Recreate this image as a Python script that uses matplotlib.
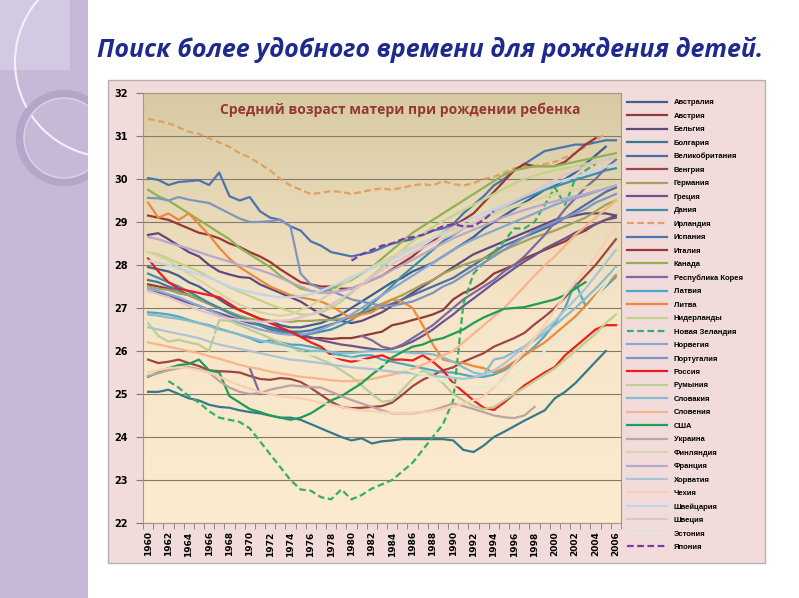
import numpy as np
import matplotlib.pyplot as plt
from matplotlib.patches import Rectangle, Circle
from matplotlib.colors import LinearSegmentedColormap

nan = np.nan
years = list(range(1960, 2007))

# средний возраст матери при рождении ребенка, 1960..2006
australia = [27.95, 27.9, 27.85, 27.75, 27.6, 27.5, 27.35, 27.2, 27.05, 26.95,
             26.85, 26.75, 26.7, 26.6, 26.55, 26.55, 26.6, 26.65, 26.75, 26.85,
             27.0, 27.15, 27.3, 27.45, 27.6, 27.7, 27.85, 27.95, 28.05, 28.2,
             28.35, 28.5, 28.65, 28.85, 29.0, 29.15, 29.3, 29.45, 29.6, 29.75,
             29.85, 30.0, 30.15, 30.35, 30.55, 30.75, nan]
austria = [27.55, 27.5, 27.45, 27.35, 27.3, 27.2, 27.1, 27.0, 26.9, 26.8,
           26.7, 26.6, 26.5, 26.45, 26.4, 26.35, 26.3, 26.3, 26.28, 26.3,
           26.3, 26.35, 26.4, 26.45, 26.6, 26.65, 26.72, 26.78, 26.85, 26.95,
           27.2, 27.35, 27.45, 27.6, 27.8, 27.9, 28.0, 28.15, 28.25, 28.35,
           28.45, 28.55, 28.7, 28.8, 28.95, 29.05, 29.15]
belgium = [28.7, 28.74, 28.6, 28.45, 28.3, 28.2, 28.0, 27.85, 27.78, 27.72,
           27.7, 27.55, 27.45, 27.35, 27.25, 27.15, 27.0, 26.85, 26.75, 26.7,
           26.65, 26.7, 26.8, 26.9, 27.05, 27.2, 27.35, 27.5, 27.65, 27.8,
           27.95, 28.1, 28.25, 28.35, 28.45, 28.55, 28.65, 28.75, 28.85, 28.95,
           29.05, 29.1, 29.15, 29.2, 29.2, 29.2, 29.15]
bulgaria = [25.05, 25.05, 25.1, 25.0, 24.9, 24.85, 24.75, 24.7, 24.68, 24.62,
            24.58, 24.55, 24.5, 24.45, 24.45, 24.4, 24.3, 24.2, 24.1, 24.0,
            23.92, 23.97, 23.85, 23.9, 23.92, 23.95, 23.95, 23.95, 23.95, 23.95,
            23.92, 23.7, 23.65, 23.8, 24.0, 24.12, 24.25, 24.38, 24.5, 24.62,
            24.9, 25.05, 25.25, 25.5, 25.75, 26.0, nan]
uk = [27.65, 27.6, 27.5, 27.42, 27.3, 27.2, 27.1, 27.0, 26.9, 26.8,
      26.7, 26.62, 26.55, 26.5, 26.45, 26.45, 26.48, 26.55, 26.62, 26.7,
      26.8, 26.88, 26.95, 27.02, 27.1, 27.2, 27.3, 27.4, 27.5, 27.6,
      27.7, 27.85, 28.0, 28.15, 28.3, 28.45, 28.55, 28.65, 28.75, 28.85,
      28.95, 29.1, 29.25, 29.4, 29.55, 29.7, 29.8]
hungary = [25.8, 25.72, 25.75, 25.8, 25.72, 25.65, 25.55, 25.53, 25.52, 25.5,
           25.42, 25.35, 25.33, 25.37, 25.35, 25.28, 25.14, 24.98, 24.82, 24.7,
           24.67, 24.68, 24.7, 24.72, 24.8, 24.98, 25.18, 25.33, 25.44, 25.55,
           25.62, 25.75, 25.85, 25.95, 26.1, 26.2, 26.3, 26.42, 26.62, 26.8,
           27.0, 27.25, 27.5, 27.75, 28.0, 28.3, 28.6]
germany = [27.5, 27.45, 27.42, 27.35, 27.3, 27.2, 27.1, 27.0, 26.9, 26.82,
           26.75, 26.72, 26.7, 26.7, 26.68, 26.7, 26.7, 26.72, 26.72, 26.75,
           26.8, 26.9, 27.0, 27.1, 27.2, 27.3, 27.42, 27.55, 27.65, 27.8,
           27.9, 28.0, 28.08, 28.15, 28.25, 28.35, 28.45, 28.55, 28.65, 28.72,
           28.8, 28.9, 29.0, 29.1, 29.25, 29.4, 29.5]
greece = [27.4, 27.35, 27.3, 27.2, 27.12, 27.05, 26.95, 26.88, 26.8, 26.72,
          26.65, 26.6, 26.55, 26.5, 26.45, 26.38, 26.32, 26.25, 26.2, 26.15,
          26.12, 26.08, 26.05, 26.02, 26.05, 26.12, 26.22, 26.35, 26.5, 26.68,
          26.85, 27.05, 27.22, 27.4, 27.58, 27.75, 27.92, 28.08, 28.22, 28.38,
          28.5, 28.62, 28.75, 28.85, 28.95, 29.05, 29.1]
denmark = [27.8, 27.7, 27.6, 27.5, 27.38, 27.25, 27.12, 27.0, 26.88, 26.78,
           26.68, 26.6, 26.52, 26.45, 26.4, 26.38, 26.4, 26.45, 26.5, 26.6,
           26.72, 26.9, 27.1, 27.3, 27.52, 27.75, 27.95, 28.15, 28.35, 28.55,
           28.7, 28.85, 28.98, 29.1, 29.22, 29.35, 29.45, 29.55, 29.65, 29.75,
           29.82, 29.9, 29.98, 30.05, 30.12, 30.2, 30.25]
ireland = [31.4, 31.35, 31.3, 31.2, 31.1, 31.05, 30.95, 30.85, 30.75, 30.6,
           30.5, 30.35, 30.2, 30.0, 29.85, 29.75, 29.65, 29.68, 29.72, 29.7,
           29.65, 29.7, 29.75, 29.78, 29.75, 29.8, 29.85, 29.88, 29.85, 29.95,
           29.88, 29.85, 29.9, 30.0, 30.05, 30.15, 30.25, 30.3, 30.3, 30.35,
           30.4, 30.5, 30.6, 30.75, 30.9, 31.05, nan]
spain = [30.02, 29.98, 29.86, 29.93, 29.95, 29.97, 29.86, 30.15, 29.6, 29.5,
         29.58, 29.25, 29.1, 29.05, 28.9, 28.8, 28.55, 28.45, 28.3, 28.25,
         28.2, 28.25, 28.3, 28.4, 28.5, 28.55, 28.6, 28.7, 28.8, 28.85,
         28.95, 29.2, 29.4, 29.6, 29.85, 30.0, 30.2, 30.35, 30.5, 30.65,
         30.7, 30.75, 30.8, 30.8, 30.85, 30.9, 30.9]
italy = [29.15, 29.1, 29.05, 28.95, 28.85, 28.75, 28.7, 28.62, 28.5, 28.42,
         28.3, 28.2, 28.07, 27.9, 27.75, 27.6, 27.55, 27.5, 27.5, 27.45,
         27.45, 27.55, 27.65, 27.75, 27.9, 28.05, 28.2, 28.4, 28.55, 28.75,
         28.9, 29.05, 29.2, 29.45, 29.7, 29.95, 30.2, 30.35, 30.3, 30.3,
         30.3, 30.4, 30.6, 30.8, 30.95, nan, nan]
canada = [29.75, 29.6, 29.5, 29.35, 29.2, 29.05, 28.9, 28.75, 28.6, 28.4,
          28.25, 28.1, 27.95, 27.75, 27.6, 27.45, 27.4, 27.35, 27.45, 27.55,
          27.65, 27.8, 27.95, 28.15, 28.35, 28.55, 28.75, 28.9, 29.05, 29.2,
          29.35, 29.5, 29.65, 29.8, 29.95, 30.1, 30.2, 30.25, 30.3, 30.3,
          30.3, 30.35, 30.4, 30.45, 30.5, 30.55, 30.6]
korea = [nan, nan, nan, nan, nan, nan, nan, nan, nan, nan,
         25.6, 25.0, nan, nan, nan, nan, nan, nan, nan, nan,
         nan, 26.35, 26.25, 26.1, 26.05, 26.15, 26.3, 26.45, 26.6, 26.8,
         27.0, 27.2, 27.35, 27.5, 27.65, 27.85, 28.0, 28.2, 28.45, 28.7,
         29.0, 29.3, 29.55, 29.8, 30.0, 30.25, 30.45]
latvia = [26.9, 26.88, 26.85, 26.8, 26.72, 26.65, 26.6, 26.52, 26.45, 26.38,
          26.3, 26.2, 26.25, 26.2, 26.15, 26.14, 26.1, 26.05, 25.95, 25.9,
          25.85, 25.9, 25.9, 25.8, 25.75, 25.7, 25.65, 25.6, 25.55, 25.5,
          25.5, 25.45, 25.4, 25.4, 25.45, 25.55, 25.7, 25.9, 26.1, 26.35,
          26.65, 27.0, 27.6, 27.05, 27.3, 27.5, 27.72]
lithuania = [29.45, 29.1, 29.2, 29.05, 29.2, 28.95, 28.7, 28.4, 28.15, 27.95,
             27.8, 27.65, 27.5, 27.4, 27.3, 27.25, 27.2, 27.15, 27.05, 26.9,
             26.75, 26.85, 26.9, 27.05, 27.2, 27.15, 27.0, 26.6, 26.15, 25.8,
             25.75, 25.72, 25.65, 25.6, 25.5, 25.6, 25.75, 25.9, 26.05, 26.2,
             26.4, 26.6, 26.8, 27.05, 27.3, 27.55, 27.77]
netherlands = [28.3, 28.25, 28.15, 28.05, 27.95, 27.85, 27.72, 27.6, 27.48, 27.38,
               27.28, 27.18, 27.08, 27.0, 26.92, 26.85, 26.85, 26.9, 27.0, 27.15,
               27.35, 27.55, 27.75, 27.95, 28.15, 28.35, 28.55, 28.72, 28.88, 29.02,
               29.15, 29.28, 29.4, 29.52, 29.65, 29.78, 29.9, 30.0, 30.08, 30.15,
               30.2, 30.25, 30.3, 30.35, 30.4, 30.45, 30.5]
new_zealand = [nan, nan, 25.3, 25.15, 24.95, 24.8, 24.6, 24.45, 24.4, 24.35,
               24.2, 23.9, 23.6, 23.3, 23.0, 22.78, 22.75, 22.6, 22.55, 22.78,
               22.55, 22.65, 22.8, 22.9, 23.0, 23.2, 23.4, 23.7, 24.0, 24.3,
               24.85, 27.1, 27.8, 28.05, 28.3, 28.55, 28.85, 28.85, 29.0, 29.4,
               29.8, 29.4, 30.0, 30.2, 30.35, nan, nan]
norway = [27.45, 27.4, 27.32, 27.25, 27.15, 27.05, 26.95, 26.85, 26.75, 26.65,
          26.58, 26.5, 26.45, 26.4, 26.38, 26.38, 26.42, 26.5, 26.6, 26.72,
          26.85, 27.0, 27.15, 27.3, 27.45, 27.6, 27.75, 27.9, 28.05, 28.2,
          28.35, 28.48, 28.6, 28.7, 28.8, 28.9, 29.0, 29.1, 29.2, 29.3,
          29.4, 29.48, 29.55, 29.62, 29.7, 29.78, 29.85]
portugal = [29.56, 29.55, 29.5, 29.58, 29.52, 29.48, 29.44, 29.32, 29.2, 29.08,
            29.0, 29.0, 29.02, 29.05, 28.9, 27.8, 27.55, 27.45, 27.4, 27.3,
            27.2, 27.15, 27.1, 27.05, 27.05, 27.1, 27.15, 27.25, 27.35, 27.5,
            27.6, 27.75, 27.9, 28.05, 28.2, 28.35, 28.5, 28.65, 28.8, 28.9,
            29.0, 29.1, 29.2, 29.3, 29.45, 29.55, 29.65]
russia = [28.15, 27.85, 27.6, 27.45, 27.4, 27.35, 27.3, 27.25, 27.1, 26.95,
          26.85, 26.75, 26.65, 26.55, 26.45, 26.33, 26.2, 26.1, 25.9, 25.8,
          25.75, 25.8, 25.85, 25.9, 25.8, 25.8, 25.78, 25.9, 25.75, 25.55,
          25.25, 25.05, 24.85, 24.68, 24.63, 24.8, 25.0, 25.2, 25.35, 25.5,
          25.63, 25.9, 26.1, 26.3, 26.5, 26.6, 26.6]
romania = [26.65, 26.35, 26.22, 26.26, 26.2, 26.15, 26.0, 26.72, 26.7, 26.6,
           26.5, 26.4, 26.3, 26.2, 26.1, 26.0, 25.9, 25.8, 25.7, 25.55,
           25.4, 25.2, 25.0, 24.82, 24.85, 25.1, 25.35, 25.55, 25.45, 25.25,
           25.0, 24.85, 24.72, 24.65, 24.7, 24.85, 25.0, 25.15, 25.3, 25.45,
           25.6, 25.8, 26.0, 26.2, 26.4, 26.65, 26.85]
slovakia = [26.85, 26.82, 26.78, 26.75, 26.7, 26.65, 26.58, 26.5, 26.45, 26.38,
            26.32, 26.25, 26.2, 26.15, 26.1, 26.05, 26.0, 26.0, 25.98, 25.95,
            25.95, 25.98, 26.0, 26.0, 25.98, 25.98, 25.95, 25.95, 25.92, 25.85,
            25.75, 25.62, 25.5, 25.45, 25.8, 25.85, 25.98, 26.1, 26.25, 26.42,
            26.6, 26.8, 27.0, 27.22, 27.45, 27.7, 27.95]
slovenia = [26.2, 26.15, 26.1, 26.05, 26.0, 25.95, 25.88, 25.82, 25.75, 25.68,
            25.62, 25.58, 25.52, 25.48, 25.44, 25.4, 25.38, 25.35, 25.32, 25.3,
            25.3, 25.32, 25.35, 25.4, 25.45, 25.5, 25.58, 25.68, 25.78, 25.9,
            26.0, 26.2, 26.4, 26.6, 26.8, 27.0, 27.25, 27.5, 27.75, 28.0,
            28.2, 28.45, 28.7, 28.9, 29.1, 29.3, 29.5]
usa = [25.4, 25.5, 25.6, 25.67, 25.7, 25.8, 25.55, 25.5, 24.95, 24.8,
       24.65, 24.58, 24.5, 24.45, 24.4, 24.45, 24.55, 24.7, 24.85, 24.95,
       25.1, 25.25, 25.45, 25.63, 25.85, 25.98, 26.1, 26.15, 26.25, 26.3,
       26.4, 26.5, 26.65, 26.78, 26.88, 26.98, 27.0, 27.02, 27.08, 27.14,
       27.2, 27.3, 27.45, 27.6, nan, nan, nan]
ukraine = [25.42, 25.48, 25.55, 25.6, 25.63, 25.58, 25.5, 25.3, 25.15, 25.05,
           25.0, 25.02, 25.1, 25.15, 25.2, 25.18, 25.16, 25.15, 25.05, 24.95,
           24.86, 24.78, 24.7, 24.62, 24.55, 24.55, 24.55, 24.58, 24.62, 24.7,
           24.78, 24.72, 24.65, 24.58, 24.5, 24.46, 24.44, 24.5, 24.7, nan,
           nan, nan, nan, nan, nan, nan, nan]
finland = [28.3, 28.2, 28.1, 27.95, 27.8, 27.65, 27.5, 27.35, 27.2, 27.08,
           26.98, 26.9, 26.85, 26.82, 26.85, 26.95, 27.05, 27.2, 27.35, 27.52,
           27.68, 27.82, 27.95, 28.08, 28.2, 28.32, 28.42, 28.52, 28.62, 28.72,
           28.82, 28.92, 29.0, 29.1, 29.18, 29.26, 29.35, 29.42, 29.5, 29.58,
           29.65, 29.7, 29.75, 29.8, 29.85, 29.9, 29.95]
france = [28.65, 28.6, 28.52, 28.45, 28.38, 28.3, 28.22, 28.15, 28.08, 28.0,
          27.95, 27.88, 27.8, 27.7, 27.6, 27.5, 27.4, 27.35, 27.35, 27.4,
          27.45, 27.55, 27.65, 27.75, 27.88, 28.0, 28.12, 28.25, 28.38, 28.5,
          28.62, 28.72, 28.82, 28.92, 29.02, 29.12, 29.2, 29.28, 29.35, 29.42,
          29.48, 29.55, 29.6, 29.65, 29.72, 29.78, 29.85]
croatia = [26.55, 26.5, 26.45, 26.4, 26.35, 26.3, 26.22, 26.15, 26.1, 26.05,
           26.0, 25.95, 25.9, 25.85, 25.8, 25.78, 25.75, 25.72, 25.68, 25.65,
           25.62, 25.6, 25.58, 25.55, 25.52, 25.5, 25.48, 25.45, 25.42, 25.4,
           25.38, 25.35, 25.38, 25.45, 25.55, 25.7, 25.9, 26.1, 26.3, 26.5,
           26.7, 26.95, 27.2, 27.45, 27.75, 28.05, 28.35]
czech = [25.5, 25.55, 25.6, 25.62, 25.6, 25.55, 25.5, 25.4, 25.3, 25.2,
         25.12, 25.05, 25.0, 24.95, 24.92, 24.9, 24.85, 24.8, 24.75, 24.7,
         24.65, 24.62, 24.6, 24.58, 24.56, 24.55, 24.56, 24.58, 24.6, 24.65,
         24.7, 24.78, 24.85, 24.95, 25.15, 25.4, 25.7, 26.0, 26.3, 26.6,
         26.95, 27.3, 27.6, 27.9, 28.2, 28.55, 28.9]
switzerland = [28.1, 28.05, 28.0, 27.92, 27.85, 27.78, 27.7, 27.6, 27.5, 27.42,
               27.38, 27.32, 27.28, 27.25, 27.25, 27.28, 27.32, 27.4, 27.5, 27.6,
               27.72, 27.82, 27.92, 28.02, 28.12, 28.25, 28.38, 28.5, 28.62, 28.75,
               28.88, 29.0, 29.1, 29.2, 29.3, 29.4, 29.5, 29.6, 29.7, 29.8,
               29.9, 29.98, 30.05, 30.12, 30.2, 30.28, 30.35]
sweden = [27.4, 27.32, 27.25, 27.15, 27.05, 26.95, 26.88, 26.8, 26.75, 26.72,
          26.7, 26.68, 26.68, 26.7, 26.72, 26.78, 26.85, 26.95, 27.08, 27.22,
          27.38, 27.55, 27.72, 27.88, 28.02, 28.15, 28.28, 28.4, 28.52, 28.62,
          28.72, 28.85, 28.98, 29.1, 29.22, 29.35, 29.48, 29.6, 29.72, 29.85,
          29.98, 30.1, 30.2, 30.3, 30.38, 30.46, 30.55]
estonia = [26.7, 26.65, 26.6, 26.55, 26.5, 26.45, 26.4, 26.35, 26.3, 26.25,
           26.2, 26.15, 26.1, 26.05, 26.0, 25.95, 25.92, 25.9, 25.88, 25.85,
           25.82, 25.8, 25.75, 25.7, 25.65, 25.6, 25.52, 25.45, 25.38, 25.3,
           25.22, 25.18, 25.15, 25.15, 25.2, 25.3, 25.45, 25.6, 25.8, 26.0,
           26.2, 26.45, 26.7, 26.95, 27.25, 27.55, 27.9]
japan = [nan, nan, nan, nan, nan, nan, nan, nan, nan, nan,
         nan, nan, nan, nan, nan, nan, nan, nan, nan, nan,
         28.1, 28.25, 28.35, 28.45, 28.5, 28.6, 28.65, 28.7, 28.8, 28.9,
         28.95, 28.9, 28.9, 29.05, 29.25, nan, nan, nan, nan, nan,
         nan, nan, nan, nan, nan, nan, nan]

countries = ["Австралия", "Австрия", "Бельгия", "Болгария", "Великобритания",
             "Венгрия", "Германия", "Греция", "Дания", "Ирландия", "Испания",
             "Италия", "Канада", "Республика Корея", "Латвия", "Литва",
             "Нидерланды", "Новая Зеландия", "Норвегия", "Португалия", "Россия",
             "Румыния", "Словакия", "Словения", "США", "Украина", "Финляндия",
             "Франция", "Хорватия", "Чехия", "Швейцария", "Швеция", "Эстония",
             "Япония"]
values = [australia, austria, belgium, bulgaria, uk, hungary, germany, greece,
          denmark, ireland, spain, italy, canada, korea, latvia, lithuania,
          netherlands, new_zealand, norway, portugal, russia, romania, slovakia,
          slovenia, usa, ukraine, finland, france, croatia, czech, switzerland,
          sweden, estonia, japan]

colors = ['#3d5f92', '#8e3b3b', '#5f4a80', '#357a8c', '#4a6ea8', '#a04545',
          '#a3a35c', '#6b5590', '#3b90a8', '#e0a060', '#4a74b0', '#9c3535',
          '#8fb252', '#7c6aa0', '#4fa7c4', '#ec8a3c', '#c2d48c', '#33b060',
          '#87a7d4', '#7f95c0', '#ee1c1c', '#bccf92', '#86bccd', '#f6b58a',
          '#1e9e55', '#bda3a3', '#d6d6a2', '#b8a8cc', '#aac6d6', '#f9cfae',
          '#c3d3ea', '#dcc4cc', '#e4ead2', '#7a3aa8']
dashed = {"Ирландия", "Новая Зеландия", "Япония"}

W, H = 799, 598
fig = plt.figure(figsize=(W / 100, H / 100), dpi=100)
fig.patch.set_facecolor('white')

# левая сиреневая полоса слайда
side = fig.add_axes([0, 0, 88 / W, 1])
side.set_xlim(0, 88)
side.set_ylim(H, 0)
side.axis('off')
side.add_patch(Rectangle((0, 0), 88, H, fc='#c6b9d8', ec='none'))
side.add_patch(Rectangle((0, 0), 70, 70, fc='#d3c9e2', ec='none'))
side.add_patch(Circle((110, 62), 95, fc='none', ec='#f4f0f8', lw=1.5))
side.add_patch(Circle((64, 138), 44, fc='none', ec='#b4a6c9', lw=6))
side.add_patch(Circle((64, 138), 40, fc='none', ec='#ddd5e8', lw=1))

fig.text(430 / W, 1 - 50 / H, "Поиск более удобного времени для рождения детей.",
         ha='center', va='center', fontsize=18, style='italic', fontweight='bold',
         color='#1f2a8e', family=['Open Sans', 'DejaVu Sans'])

# рамка диаграммы
fig.patches.append(Rectangle((108 / W, 1 - 563 / H), (765 - 108) / W, (563 - 80) / H,
                             transform=fig.transFigure, fc='#f2dcdb',
                             ec='#b8b0b0', lw=1, zorder=-1))

ax = fig.add_axes([143 / W, 1 - 523 / H, 478 / W, 430 / H])
ax.set_zorder(2)
cmap = LinearSegmentedColormap.from_list('bg', ['#fdebd0', '#f6e5c8', '#d7caa3'])
grad = np.linspace(0, 1, 256).reshape(-1, 1)
ax.imshow(grad, extent=[1959.5, 2006.5, 22, 32], origin='lower', aspect='auto',
          cmap=cmap, zorder=0)

for name, vals, col in zip(countries, values, colors):
    if name in dashed:
        ax.plot(years, vals, color=col, lw=1.6, ls=(0, (3, 1.6)), label=name)
    else:
        ax.plot(years, vals, color=col, lw=1.6, label=name)

ax.set_xlim(1959.5, 2006.5)
ax.set_ylim(22, 32)
ax.set_yticks(range(22, 33))
ax.yaxis.grid(True, color='#857a6a', lw=0.8)
ax.set_axisbelow(True)
ax.tick_params(axis='y', length=5, color='#857a6a', labelsize=7, pad=6)
for lab in ax.get_yticklabels():
    lab.set_fontweight('bold')

ax.set_xticks(years[::2])
ax.set_xticklabels([str(y) for y in years[::2]], rotation=90, fontsize=6.5,
                   fontweight='bold')
ax.set_xticks(np.arange(1959.5, 2007, 1), minor=True)
ax.tick_params(axis='x', which='major', length=0, pad=6)
ax.tick_params(axis='x', which='minor', length=4, color='#857a6a')
for sp in ax.spines.values():
    sp.set_color('#a09888')
    sp.set_linewidth(0.8)

ax.text(0.538, 0.962, "Средний возраст матери при рождении ребенка",
        transform=ax.transAxes, ha='center', va='center', fontsize=10,
        fontweight='bold', color='#953735', family=['Open Sans', 'DejaVu Sans'])

handles, labels = ax.get_legend_handles_labels()
leg = fig.legend(handles, labels, loc='upper left', bbox_to_anchor=(627 / W, 1 - 99 / H),
                 frameon=False, handlelength=5.2, handletextpad=0.9, labelspacing=0.8,
                 borderaxespad=0, borderpad=0,
                 prop={'size': 5.5, 'weight': 'bold',
                       'family': ['Liberation Sans', 'DejaVu Sans']})
leg.set_zorder(3)

fig.savefig('out.png', dpi=100)
